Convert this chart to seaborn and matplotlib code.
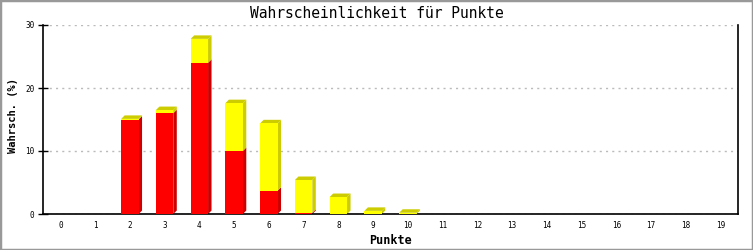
import matplotlib
matplotlib.use("Agg")
import matplotlib.pyplot as plt
import seaborn as sns
import pandas as pd
from matplotlib.patches import Polygon, Rectangle

# ---- data ----
categories = [str(i) for i in range(20)]
red_values = [0, 0, 15.0, 16.0, 24.0, 10.0, 3.7, 0.2, 0, 0, 0, 0, 0, 0, 0, 0, 0, 0, 0, 0]
yellow_values = [0, 0, 0.1, 0.5, 3.8, 7.6, 10.7, 5.2, 2.7, 0.5, 0.2, 0, 0, 0, 0, 0, 0, 0, 0, 0]
y_ticks = [0, 10, 20, 30]
title = "Wahrscheinlichkeit für Punkte"
x_label = "Punkte"
y_label = "Wahrsch. (%)"

RED, RED_DARK = "#FF0000", "#CC0000"
YEL, YEL_DARK = "#FFFF00", "#CCCC00"

sns.set_style("white")
plt.rcParams["font.family"] = ["DejaVu Sans Mono", "DejaVu Sans"]
plt.rcParams["text.color"] = "black"
plt.rcParams["axes.labelcolor"] = "black"
plt.rcParams["xtick.color"] = "black"
plt.rcParams["ytick.color"] = "black"

df = pd.DataFrame({
    "cat": categories,
    "red": red_values,
    "total": [r + y for r, y in zip(red_values, yellow_values)],
})

fig = plt.figure(figsize=(7.53, 2.5), dpi=100)
ax = fig.add_axes([43 / 753, 1 - 214 / 250, (738 - 43) / 753, (214 - 25) / 250])

sns.barplot(data=df, x="cat", y="total", color=YEL, saturation=1, width=0.5,
            ax=ax, linewidth=0, order=categories, zorder=3)
n_yel = len(ax.patches)
sns.barplot(data=df, x="cat", y="red", color=RED, saturation=1, width=0.5,
            ax=ax, linewidth=0, order=categories, zorder=3)

yellow_bars = ax.patches[:n_yel]
red_bars = ax.patches[n_yel:]

dx, dy = 0.1, 0.55
for yb, rb in zip(yellow_bars, red_bars):
    xl = yb.get_x()
    xr = xl + yb.get_width()
    tot = yb.get_height()
    red = rb.get_height()
    if tot <= 0:
        continue
    if red > 0:
        ax.add_patch(Polygon([(xr, 0), (xr + dx, dy), (xr + dx, red + dy), (xr, red)],
                             closed=True, facecolor=RED_DARK, edgecolor="none", zorder=2.5))
    if tot - red > 0:
        ax.add_patch(Polygon([(xr, red), (xr + dx, red + dy), (xr + dx, tot + dy), (xr, tot)],
                             closed=True, facecolor=YEL_DARK, edgecolor="none", zorder=2.5))
    cap_col = YEL_DARK if tot - red > 0 else RED_DARK
    ax.add_patch(Polygon([(xl, tot), (xl + dx, tot + dy), (xr + dx, tot + dy), (xr, tot)],
                         closed=True, facecolor=cap_col, edgecolor="none", zorder=2.5))

ax.set_xlim(-0.5, 19.5)
ax.set_ylim(0, 30)
ax.set_yticks(y_ticks)
ax.set_yticklabels([str(t) for t in y_ticks])
ax.yaxis.grid(True, linestyle=(0, (1.5, 3)), color="#BBBBBB", linewidth=1, zorder=0)
ax.xaxis.grid(False)
ax.set_axisbelow(True)

for side in ["left", "bottom", "right"]:
    ax.spines[side].set_visible(True)
    ax.spines[side].set_color("black")
    ax.spines[side].set_linewidth(1.2)
ax.spines["top"].set_visible(False)

ax.tick_params(axis="y", direction="inout", length=6.5, width=1, color="black",
               labelsize=5.5, pad=3, left=True, labelcolor="black")
ax.tick_params(axis="x", length=0, labelsize=5.5, pad=5, labelcolor="black")

ax.set_xlabel(x_label, fontsize=8.5, fontweight="bold", color="black")
ax.set_ylabel(y_label, fontsize=7.5, fontweight="bold", color="black")
ax.yaxis.set_label_coords(-0.036, 0.52)
ax.xaxis.set_label_coords(0.5, -0.105)

fig.text(0.5, 1 - 14 / 250, title, ha="center", va="center", fontsize=10.5, color="black")

fig.patches.append(Rectangle((0, 0), 1, 1, transform=fig.transFigure, fill=False,
                             edgecolor="#999999", linewidth=2.5, zorder=10))

fig.savefig("out.png", dpi=100)
